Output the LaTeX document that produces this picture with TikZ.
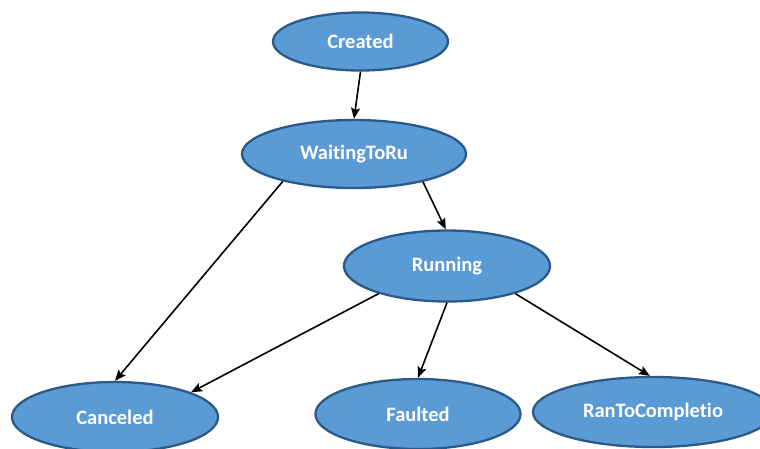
\documentclass[tikz,border=0pt]{standalone}
\usepackage{fontspec}
\setmainfont{Carlito}[Ligatures=NoCommon]
\usetikzlibrary{shapes.geometric,arrows.meta}
\definecolor{stfill}{HTML}{5B9BD5}
\definecolor{stline}{HTML}{2B5A88}
\tikzset{
  state/.style={ellipse, draw=stline, fill=stfill, line width=2.3pt, inner sep=0pt,
    text=white, font=\bfseries\fontsize{20.5}{24}\selectfont},
  trans/.style={draw=black, line width=1.6pt,
    -{Stealth[length=11pt,width=9pt,inset=2pt]}}
}
\begin{document}
\begin{tikzpicture}[x=1pt,y=-1pt]
\useasboundingbox (0,0) rectangle (760,448);
\fill[white] (0,0) rectangle (760,448);

% task states
\node[state, minimum width=175pt, minimum height=58pt] (created) at (360.5,41.5) {Created};
\node[state, minimum width=224pt, minimum height=68pt] (wait) at (354,154) {WaitingToRu};
\node[state, minimum width=206pt, minimum height=71pt] (run) at (447,266) {Running};
\node[state, minimum width=206pt, minimum height=70pt] (canc) at (115,417) {Canceled};
\node[state, minimum width=205pt, minimum height=70pt] (faul) at (418,414) {Faulted};
\node[state, minimum width=240pt, minimum height=70pt] (ranc) at (653,412) {RanToCompletio};

% transitions
\draw[trans] (created.south) -- (wait.north);
\draw[trans] (wait.-22) -- (run.92);
\draw[trans] (wait.201) -- (canc.north);
\draw[trans] (run.-158) -- (canc.18);
\draw[trans] (run.south) -- (faul.north);
\draw[trans] (run.-22) -- (ranc.95);
\end{tikzpicture}
\end{document}
